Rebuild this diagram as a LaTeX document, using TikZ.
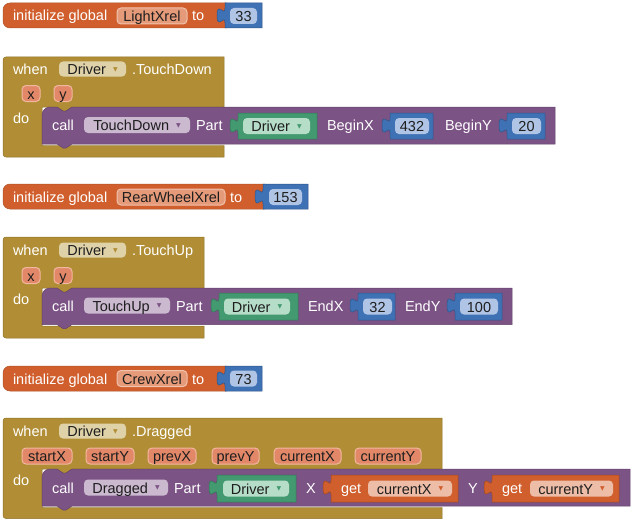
\documentclass[tikz,border=0pt]{standalone}
\usepackage{fontspec}
\setmainfont{Liberation Sans}
\newfontfamily\symfont{DejaVu Sans}
\definecolor{cOr}{RGB}{208,95,45}
\definecolor{cOrF}{RGB}{229,154,121}
\definecolor{cOrFb}{RGB}{241,194,172}
\definecolor{cOrG}{RGB}{237,189,167}
\definecolor{cBl}{RGB}{63,113,181}
\definecolor{cBlF}{RGB}{176,197,229}
\definecolor{cGd}{RGB}{177,142,53}
\definecolor{cGdF}{RGB}{224,210,168}
\definecolor{cPa}{RGB}{226,136,104}
\definecolor{cPab}{RGB}{241,184,160}
\definecolor{cPu}{RGB}{124,83,133}
\definecolor{cPuF}{RGB}{202,185,207}
\definecolor{cGn}{RGB}{67,153,112}
\definecolor{cGnF}{RGB}{181,221,200}
\definecolor{cTx}{RGB}{30,30,30}
\newcommand\dd[1]{\hspace{7pt}{\symfont\fontsize{6}{6}\selectfont\raisebox{3.5pt}{\textcolor{#1}{▼}}}}
% value block with output tab: L R T B colour
\newcommand\valblock[5]{%
  \fill[#5, draw=#5!75!black, line width=0.5pt] (#1,#3) -- (#2,#3) -- (#2,#4) -- (#1,#4) -- (#1,#3+20)
    .. controls (#1,#3+10) and (#1-8,#3+28) .. (#1-8,#3+12.5)
    .. controls (#1-8,#3-3) and (#1,#3+15) .. (#1,#3+5) -- cycle;}
% statement block: L R T B colour
\newcommand\stmtblock[5]{%
  \fill[#5, draw=#5!80!black, line width=0.5pt] (#1,#4) -- (#1,#3+8)
    .. controls (#1,#3+3.6) and (#1+3.6,#3) .. (#1+8,#3)
    -- (#1+15,#3) -- (#1+21,#3+4) -- (#1+24,#3+4) -- (#1+30,#3) -- (#2,#3) -- (#2,#4)
    -- (#1+30,#4) -- (#1+24,#4+4) -- (#1+21,#4+4) -- (#1+15,#4) -- cycle;}
% event block: T R S1 S2 Bt
\newcommand\evblock[5]{%
  \fill[cGd, draw=cGd!82!black, line width=0.5pt] (3,#1+3) .. controls (3,#1+1.3) and (4.3,#1) .. (6,#1)
    -- (#2,#1) -- (#2,#3) -- (72,#3) -- (66,#3+4) -- (63,#3+4) -- (57,#3) -- (42,#3)
    -- (42,#4) -- (#2,#4) -- (#2,#5) -- (6,#5) .. controls (4.3,#5) and (3,#5-1.3) .. (3,#5-3) -- cycle;
  \draw[white!88!cGd, line width=1pt] (42.6,#4-8) -- (42.6,#4-3) .. controls (42.6,#4-0.8) and (44,#4-0.8) .. (47,#4-0.8) -- (#2-0.6,#4-0.8);}
\begin{document}
\begin{tikzpicture}[x=1pt,y=-1pt,font=\fontsize{14.5}{17}\selectfont,
  lbl/.style={anchor=base west, inner sep=0pt, outer sep=0pt, text=white},
  fld/.style={anchor=west, inner sep=0pt, outer sep=0pt, rounded corners=4pt, minimum height=16pt,
     text=cTx, text height=12.5pt, text depth=1.5pt},
  namef/.style={fld, fill=cOrF, draw=cOrFb, line width=1pt},
  chip/.style={fld, fill=cPa, draw=cPab, line width=1pt},
  numf/.style={fld, fill=cBlF},
  gfld/.style={fld, fill=cGdF, minimum height=15pt},
  pfld/.style={fld, fill=cPuF},
  nfld/.style={fld, fill=cGnF},
  ofld/.style={fld, fill=cOrG}]
\useasboundingbox (0,0) rectangle (634,519);

% ---------- initialize global LightXrel ----------
\fill[cOr, draw=cOr!85!black, line width=0.5pt, rounded corners=7pt] (3,3) rectangle (233,28);
\valblock{225}{262}{3}{28}{cBl}
\node[lbl] (iA) at (13,21) {initialize global};
\node[namef, minimum width=70pt] (nA) at (117,16) {LightXrel};
\node[lbl] (tA) at (192,21) {to};
\node[numf, minimum width=27pt] (vA) at (230,16) {33};

% ---------- when Driver.TouchDown ----------
\evblock{57}{224}{107}{145.5}{157}
\stmtblock{42}{555}{107}{144}{cPu}
\valblock{238}{317}{113}{139}{cGn}
\valblock{390}{433}{113}{139}{cBl}
\valblock{507}{545}{113}{139}{cBl}
\node[lbl] (wB) at (13,74.5) {when};
\node[gfld, minimum width=67pt] (cB) at (59,69) {Driver\dd{cGd}};
\node[lbl] (eB) at (132,74.5) {.TouchDown};
\node[chip, minimum width=18pt] (pBx) at (22,93.5) {x};
\node[chip, minimum width=18pt] (pBy) at (54,93.5) {y};
\node[lbl] (dB) at (13,123) {do};
\node[lbl] (kB) at (52,130.5) {call};
\node[pfld, minimum width=106pt] (mB) at (84,125) {TouchDown\dd{cPu}};
\node[lbl] (prB) at (196,130.5) {Part};
\node[nfld, minimum width=67pt] (gB) at (243,126) {Driver\dd{cGn}};
\node[lbl] (bxB) at (327,130.5) {BeginX};
\node[numf, minimum width=34pt] (v1B) at (395,126) {432};
\node[lbl] (byB) at (445,130.5) {BeginY};
\node[numf, minimum width=29pt] (v2B) at (512,126) {20};

% ---------- initialize global RearWheelXrel ----------
\fill[cOr, draw=cOr!85!black, line width=0.5pt, rounded corners=7pt] (3,184) rectangle (271,209);
\valblock{263}{308}{184}{209}{cBl}
\node[lbl] (iC) at (13,202) {initialize global};
\node[namef, minimum width=108pt] (nC) at (117,197) {RearWheelXrel};
\node[lbl] (tC) at (230,202) {to};
\node[numf, minimum width=33pt] (vC) at (269,197) {153};

% ---------- when Driver.TouchUp ----------
\evblock{237}{204}{288}{326}{338}
\stmtblock{42}{512}{288}{324.5}{cPu}
\valblock{219}{298}{293}{320}{cGn}
\valblock{358}{395}{293}{320}{cBl}
\valblock{455}{502}{293}{320}{cBl}
\node[lbl] (wD) at (13,255.5) {when};
\node[gfld, minimum width=67pt] (cD) at (59,250) {Driver\dd{cGd}};
\node[lbl] (eD) at (132,255.5) {.TouchUp};
\node[chip, minimum width=18pt] (pDx) at (22,275.5) {x};
\node[chip, minimum width=18pt] (pDy) at (54,275.5) {y};
\node[lbl] (dD) at (13,304.5) {do};
\node[lbl] (kD) at (52,311) {call};
\node[pfld, minimum width=86pt] (mD) at (84,305.5) {TouchUp\dd{cPu}};
\node[lbl] (prD) at (176,311) {Part};
\node[nfld, minimum width=66pt] (gD) at (224,306.5) {Driver\dd{cGn}};
\node[lbl] (exD) at (308,311) {EndX};
\node[numf, minimum width=29pt] (v1D) at (363,306.5) {32};
\node[lbl] (eyD) at (405,311) {EndY};
\node[numf, minimum width=38pt] (v2D) at (460,306.5) {100};

% ---------- initialize global CrewXrel ----------
\fill[cOr, draw=cOr!85!black, line width=0.5pt, rounded corners=7pt] (3,366) rectangle (233,391);
\valblock{225}{262}{366}{391}{cBl}
\node[lbl] (iE) at (13,384) {initialize global};
\node[namef, minimum width=70pt] (nE) at (117,378.5) {CrewXrel};
\node[lbl] (tE) at (192,384) {to};
\node[numf, minimum width=27pt] (vE) at (230,378.5) {73};

% ---------- when Driver.Dragged ----------
\evblock{418}{442}{469}{507.5}{518.5}
\stmtblock{42}{630}{469}{506}{cPu}
\valblock{217}{296}{475}{502}{cGn}
\valblock{331}{458}{475}{502}{cOr}
\valblock{492}{619}{475}{502}{cOr}
\node[lbl] (wF) at (13,436.5) {when};
\node[gfld, minimum width=67pt] (cF) at (59,431) {Driver\dd{cGd}};
\node[lbl] (eF) at (132,436.5) {.Dragged};
\node[chip, minimum width=50pt] (pF1) at (22,456) {startX};
\node[chip, minimum width=48pt] (pF2) at (86,456) {startY};
\node[chip, minimum width=48pt] (pF3) at (148,456) {prevX};
\node[chip, minimum width=47pt] (pF4) at (212,456) {prevY};
\node[chip, minimum width=67pt] (pF5) at (274,456) {currentX};
\node[chip, minimum width=66pt] (pF6) at (355,456) {currentY};
\node[lbl] (dF) at (13,485.5) {do};
\node[lbl] (kF) at (52,493) {call};
\node[pfld, minimum width=84pt] (mF) at (84,487.5) {Dragged\dd{cPu}};
\node[lbl] (prF) at (174,493) {Part};
\node[nfld, minimum width=66pt] (gF) at (223,488.5) {Driver\dd{cGn}};
\node[lbl] (xF) at (306,493) {X};
\node[lbl] (g1F) at (341,493) {get};
\node[ofld, minimum width=84pt] (o1F) at (368,488.5) {currentX\dd{cOr}};
\node[lbl] (yF) at (468,493) {Y};
\node[lbl] (g2F) at (502,493) {get};
\node[ofld, minimum width=83pt] (o2F) at (530,488.5) {currentY\dd{cOr}};
\end{tikzpicture}
\end{document}
